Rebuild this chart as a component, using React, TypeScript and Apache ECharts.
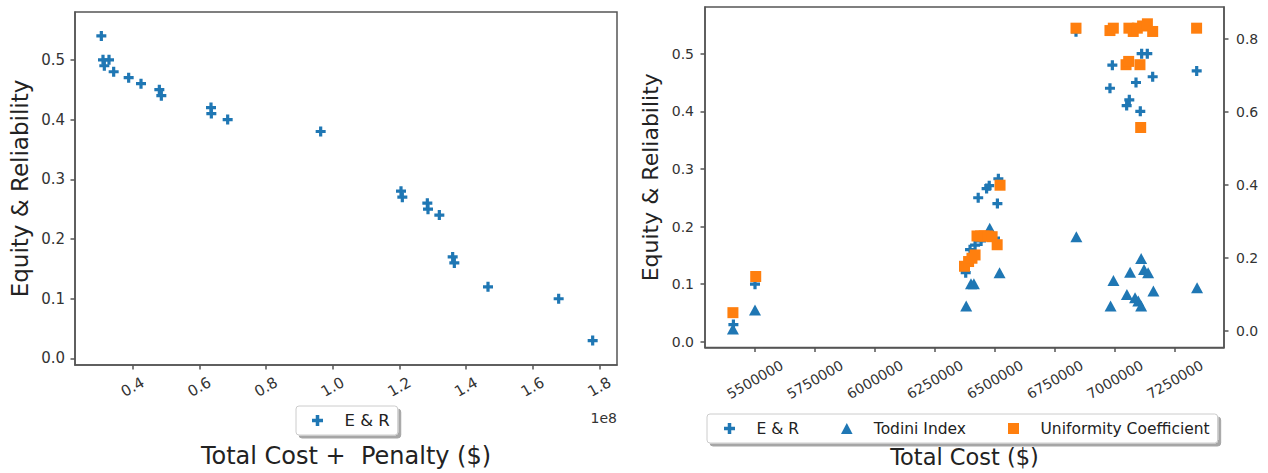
import React, { useEffect, useRef } from "react";
import * as echarts from "echarts";

// ---------- Left chart: Total Cost + Penalty vs Equity & Reliability ----------
const leftCost = [
  30600000, 31100000, 32900000, 31500000, 34300000, 38800000, 42500000, 48000000,
  48600000, 63500000, 63600000, 68500000, 96400000, 120500000, 120900000, 128400000,
  128600000, 132000000, 136000000, 136500000, 146600000, 167800000, 178000000,
];
const leftER = [
  0.54, 0.5, 0.5, 0.49, 0.48, 0.47, 0.46, 0.45, 0.44, 0.42, 0.41, 0.4, 0.38, 0.28, 0.27,
  0.26, 0.25, 0.24, 0.17, 0.16, 0.12, 0.1, 0.03,
];
const leftXTicks = [40000000, 60000000, 80000000, 100000000, 120000000, 140000000, 160000000, 180000000];
const leftYTicks = [0, 0.1, 0.2, 0.3, 0.4, 0.5];

// ---------- Right chart: Total Cost vs indices ----------
const erCost = [
  5410000, 5500000, 6378000, 6396000, 6417000, 6430000, 6442000, 6465000, 6476000, 6500000,
  6510000, 6514000, 6837500, 6979000, 6989000, 7048600, 7059600, 7087500, 7105400, 7111000,
  7134600, 7157000, 7340400,
];
const erValue = [
  0.03, 0.1, 0.12, 0.16, 0.168, 0.25, 0.175, 0.266, 0.271, 0.18, 0.24, 0.283, 0.538, 0.44,
  0.48, 0.41, 0.42, 0.45, 0.4, 0.5, 0.5, 0.46, 0.47,
];
const todiniCost = [
  5408000, 5500000, 6380000, 6400000, 6412000, 6478000, 6519000, 6839000, 6981600, 6993500,
  7049600, 7063000, 7083500, 7097000, 7109000, 7109000, 7121000, 7138000, 7160000, 7342000,
];
const todiniValue = [
  0.005, 0.057, 0.068, 0.129, 0.129, 0.281, 0.159, 0.258, 0.068, 0.138, 0.1, 0.161, 0.091,
  0.082, 0.068, 0.198, 0.168, 0.159, 0.109, 0.118,
];
const uniformCost = [
  5408000, 5503000, 6373000, 6390000, 6404000, 6417000, 6425000, 6440000, 6455000, 6470000,
  6488000, 6509000, 6521000, 6837500, 6979000, 6993000, 7046000, 7057000, 7058000, 7076000,
  7093000, 7104000, 7107000, 7115000, 7135000, 7157000, 7340000,
];
const uniformValue = [
  0.05, 0.149, 0.177, 0.19, 0.199, 0.208, 0.26, 0.26, 0.26, 0.26, 0.258, 0.236, 0.399, 0.829,
  0.8225, 0.829, 0.729, 0.738, 0.829, 0.82, 0.829, 0.729, 0.557, 0.835, 0.841, 0.82, 0.829,
];
const rightXTicks = [5500000, 5750000, 6000000, 6250000, 6500000, 6750000, 7000000, 7250000];
const rightYTicksLeft = [0, 0.1, 0.2, 0.3, 0.4, 0.5];
const rightYTicksRight = [0, 0.2, 0.4, 0.6, 0.8];

const FONT = "DejaVu Sans";
const BLUE = "#1f77b4";
const ORANGE = "#ff7f0e";
const SPINE = "#555";
const PLUS = "path://M3.4,0H6.6V3.4H10V6.6H6.6V10H3.4V6.6H0V3.4H3.4Z";
const TRI = "path://M5,0L10,9.5H0Z";
const SQUARE = "path://M0,0H10V10H0Z";

const pairs = (xs: number[], ys: number[]) => xs.map((x, i) => [x, ys[i]]);

export default function App() {
  const ref = useRef<HTMLDivElement>(null);

  useEffect(() => {
    if (!ref.current) return;
    const chart = echarts.init(ref.current, undefined, { renderer: "svg" });
    const lineStyle = { color: SPINE, width: 1.5 };
    const axisLine = { show: true, onZero: false, lineStyle };
    const tickLabel = (size: number) => ({ fontSize: size, color: "#333", fontFamily: FONT });
    const legendBox = {
      backgroundColor: "#fff",
      borderColor: "#ccc",
      borderWidth: 1,
      borderRadius: 3,
      shadowColor: "rgba(0,0,0,0.35)",
      shadowBlur: 0,
      shadowOffsetX: 3,
      shadowOffsetY: 3,
      selectedMode: false,
      orient: "horizontal",
      itemStyle: { opacity: 1 },
    };

    const option: any = {
      animation: false,
      backgroundColor: "#fff",
      textStyle: { fontFamily: FONT },
      grid: [
        { left: 75, top: 12, width: 542, height: 357, show: true, borderColor: SPINE, borderWidth: 1.5 },
        { left: 705, top: 7, width: 519, height: 343, show: true, borderColor: SPINE, borderWidth: 1.5 },
      ],
      xAxis: [
        {
          gridIndex: 0,
          type: "value",
          min: 22700000,
          max: 185300000,
          splitLine: { show: false },
          axisLine,
          axisTick: { show: true, length: 4.5, lineStyle, customValues: leftXTicks },
          axisLabel: {
            ...tickLabel(15),
            customValues: leftXTicks,
            formatter: (v: number) => (v / 1e8).toFixed(1),
            rotate: 30,
            align: "center",
            verticalAlign: "middle",
            margin: 22,
          },
          name: "Total Cost +  Penalty ($)",
          nameLocation: "middle",
          nameGap: 91,
          nameTextStyle: { fontSize: 24, color: "#222", align: "center", verticalAlign: "middle" },
        },
        {
          gridIndex: 1,
          type: "value",
          min: 5291667,
          max: 7454167,
          splitLine: { show: false },
          axisLine,
          axisTick: { show: true, length: 4.5, lineStyle, customValues: rightXTicks },
          axisLabel: {
            ...tickLabel(14),
            customValues: rightXTicks,
            formatter: (v: number) => String(Math.round(v)),
            rotate: 30,
            align: "center",
            verticalAlign: "middle",
            margin: 32,
          },
          name: "Total Cost ($)",
          nameLocation: "middle",
          nameGap: 109,
          nameTextStyle: { fontSize: 22.5, color: "#222", align: "center", verticalAlign: "middle" },
        },
      ],
      yAxis: [
        {
          gridIndex: 0,
          type: "value",
          min: -0.0109,
          max: 0.58,
          splitLine: { show: false },
          axisLine,
          axisTick: { show: true, length: 4.5, lineStyle, customValues: leftYTicks },
          axisLabel: {
            ...tickLabel(15),
            customValues: leftYTicks,
            formatter: (v: number) => v.toFixed(1),
            margin: 10,
          },
          name: "Equity & Reliability",
          nameLocation: "middle",
          nameGap: 55,
          nameRotate: 90,
          nameTextStyle: { fontSize: 23, color: "#222", align: "center", verticalAlign: "middle" },
        },
        {
          gridIndex: 1,
          type: "value",
          min: -0.0098,
          max: 0.581,
          splitLine: { show: false },
          axisLine,
          axisTick: { show: true, length: 4.5, lineStyle, customValues: rightYTicksLeft },
          axisLabel: {
            ...tickLabel(14),
            customValues: rightYTicksLeft,
            formatter: (v: number) => v.toFixed(1),
            margin: 11,
          },
          name: "Equity & Reliability",
          nameLocation: "middle",
          nameGap: 55,
          nameRotate: 90,
          nameTextStyle: { fontSize: 22, color: "#222", align: "center", verticalAlign: "middle" },
        },
        {
          gridIndex: 1,
          type: "value",
          position: "right",
          min: -0.0454,
          max: 0.887,
          splitLine: { show: false },
          axisLine,
          axisTick: { show: true, length: 4.5, lineStyle, customValues: rightYTicksRight },
          axisLabel: {
            ...tickLabel(14),
            customValues: rightYTicksRight,
            formatter: (v: number) => v.toFixed(1),
            margin: 12,
          },
        },
      ],
      legend: [
        {
          ...legendBox,
          left: 296,
          top: 406,
          padding: [6, 8, 6, 16],
          itemWidth: 44,
          itemHeight: 11,
          textStyle: { fontSize: 16.5, lineHeight: 17, color: "#222", fontFamily: FONT },
          data: [{ name: "E & R", icon: PLUS }],
        },
        {
          ...legendBox,
          left: 707,
          top: 414,
          padding: [6, 8, 6, 17],
          itemWidth: 44,
          itemHeight: 11,
          itemGap: 42,
          textStyle: { fontSize: 15.5, lineHeight: 17, color: "#222", fontFamily: FONT },
          data: [
            { name: "E & R", icon: PLUS },
            { name: "Todini Index", icon: TRI },
            { name: "Uniformity Coefficient", icon: SQUARE },
          ],
        },
      ],
      graphic: [
        {
          type: "text",
          right: 651,
          top: 411,
          style: { text: "1e8", font: `14px "${FONT}"`, fill: "#333" },
        },
      ],
      series: [
        {
          name: "E & R",
          type: "scatter",
          xAxisIndex: 0,
          yAxisIndex: 0,
          symbol: PLUS,
          symbolSize: 10,
          itemStyle: { color: BLUE, opacity: 1 },
          data: pairs(leftCost, leftER),
        },
        {
          name: "E & R",
          type: "scatter",
          xAxisIndex: 1,
          yAxisIndex: 1,
          symbol: PLUS,
          symbolSize: 10,
          itemStyle: { color: BLUE, opacity: 1 },
          data: pairs(erCost, erValue),
        },
        {
          name: "Todini Index",
          type: "scatter",
          xAxisIndex: 1,
          yAxisIndex: 2,
          symbol: "triangle",
          symbolSize: [12, 11],
          itemStyle: { color: BLUE, opacity: 1 },
          data: pairs(todiniCost, todiniValue),
        },
        {
          name: "Uniformity Coefficient",
          type: "scatter",
          xAxisIndex: 1,
          yAxisIndex: 2,
          symbol: "rect",
          symbolSize: 11,
          itemStyle: { color: ORANGE, opacity: 1 },
          data: pairs(uniformCost, uniformValue),
        },
      ],
    };

    chart.setOption(option);
    return () => chart.dispose();
  }, []);

  return (
    <div
      ref={ref}
      style={{ position: "fixed", left: 0, top: 0, width: 1268, height: 473, background: "#fff" }}
    />
  );
}
